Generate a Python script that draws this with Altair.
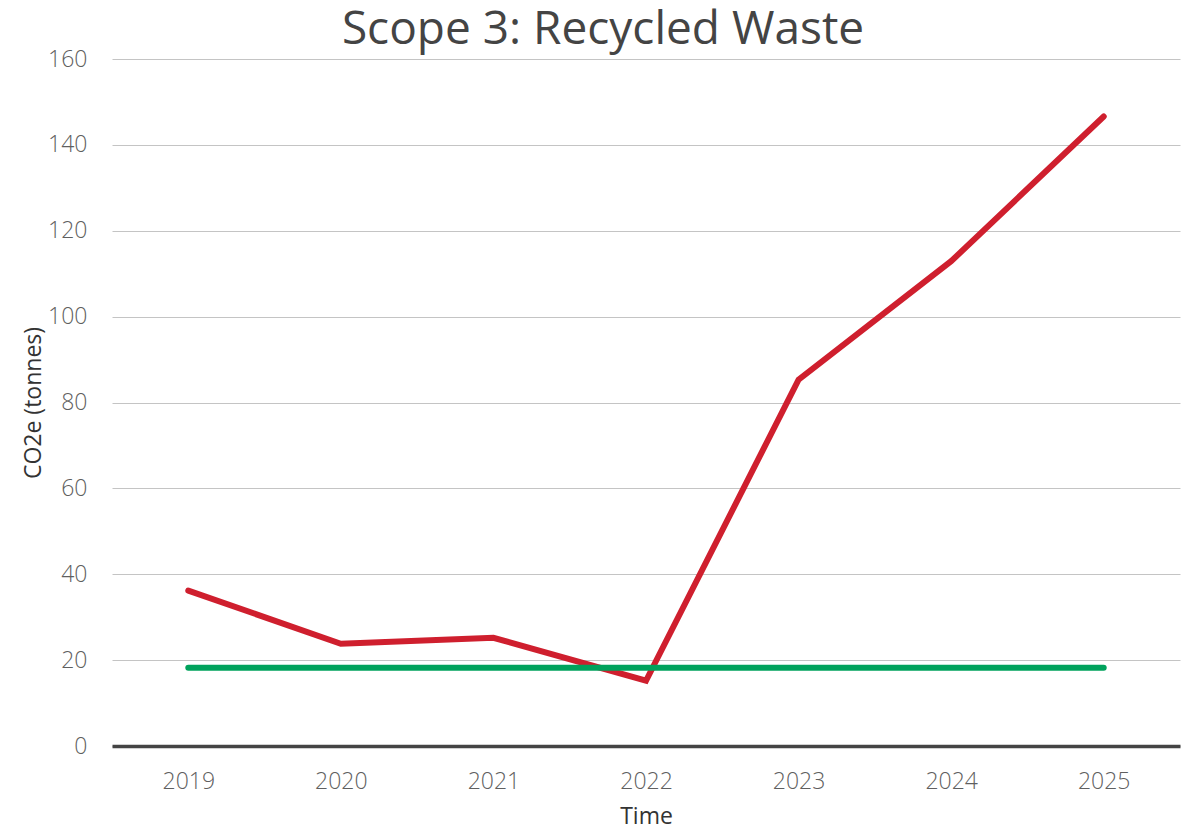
import altair as alt
import pandas as pd

years = ["2019", "2020", "2021", "2022", "2023", "2024", "2025"]
emissions = [36.2, 23.8, 25.2, 15.2, 85.3, 112.9, 146.6]
target = [18.2, 18.2, 18.2, 18.2, 18.2, 18.2, 18.2]

rows = []
for y, e, t in zip(years, emissions, target):
    rows.append({"Time": y, "value": e, "series": "Recycled Waste"})
    rows.append({"Time": y, "value": t, "series": "Target"})
df = pd.DataFrame(rows)

FONT = "Open Sans"

chart = alt.Chart(df).mark_line(strokeWidth=6, strokeCap="round", strokeJoin="miter").encode(
    x=alt.X("Time:N", sort=years, scale=alt.Scale(type="point", padding=0.5),
            axis=alt.Axis(title="Time", labelAngle=0, ticks=False, domain=True,
                          domainColor="#444444", domainWidth=3.5, grid=False,
                          labelPadding=24, labelFontSize=23, labelFontWeight=300,
                          labelColor="#5f5f5f",
                          titleFontSize=23, titleColor="#333333", titleFontWeight="normal",
                          titlePadding=12, labelFont=FONT, titleFont=FONT)),
    y=alt.Y("value:Q", scale=alt.Scale(domain=[0, 160], nice=False),
            axis=alt.Axis(title="CO2e (tonnes)", values=list(range(0, 161, 20)), ticks=False,
                          domain=False, grid=True, gridColor="#c4c4c4", gridWidth=1,
                          labelPadding=25, labelFontSize=23, labelFontWeight=300,
                          labelColor="#5f5f5f",
                          titleFontSize=23, titleColor="#333333", titleFontWeight="normal",
                          titlePadding=2, labelFont=FONT, titleFont=FONT)),
    color=alt.Color("series:N", scale=alt.Scale(domain=["Recycled Waste", "Target"],
                                                 range=["#cf1f2e", "#00a25c"]), legend=None),
    order=alt.Order("series:N"),
).properties(
    width=1068,
    height=687,
    title=alt.TitleParams("Scope 3: Recycled Waste", fontSize=46, font=FONT, fontWeight="normal",
                          color="#444444", anchor="middle", dx=-43, offset=-6),
    autosize=alt.AutoSizeParams(type="none"),
    padding={"left": 104, "top": 51, "right": 4, "bottom": 82},
).configure(background="white").configure_view(stroke=None, strokeWidth=0)

chart.save("out.html", embed_options={"renderer": "svg", "actions": False})
